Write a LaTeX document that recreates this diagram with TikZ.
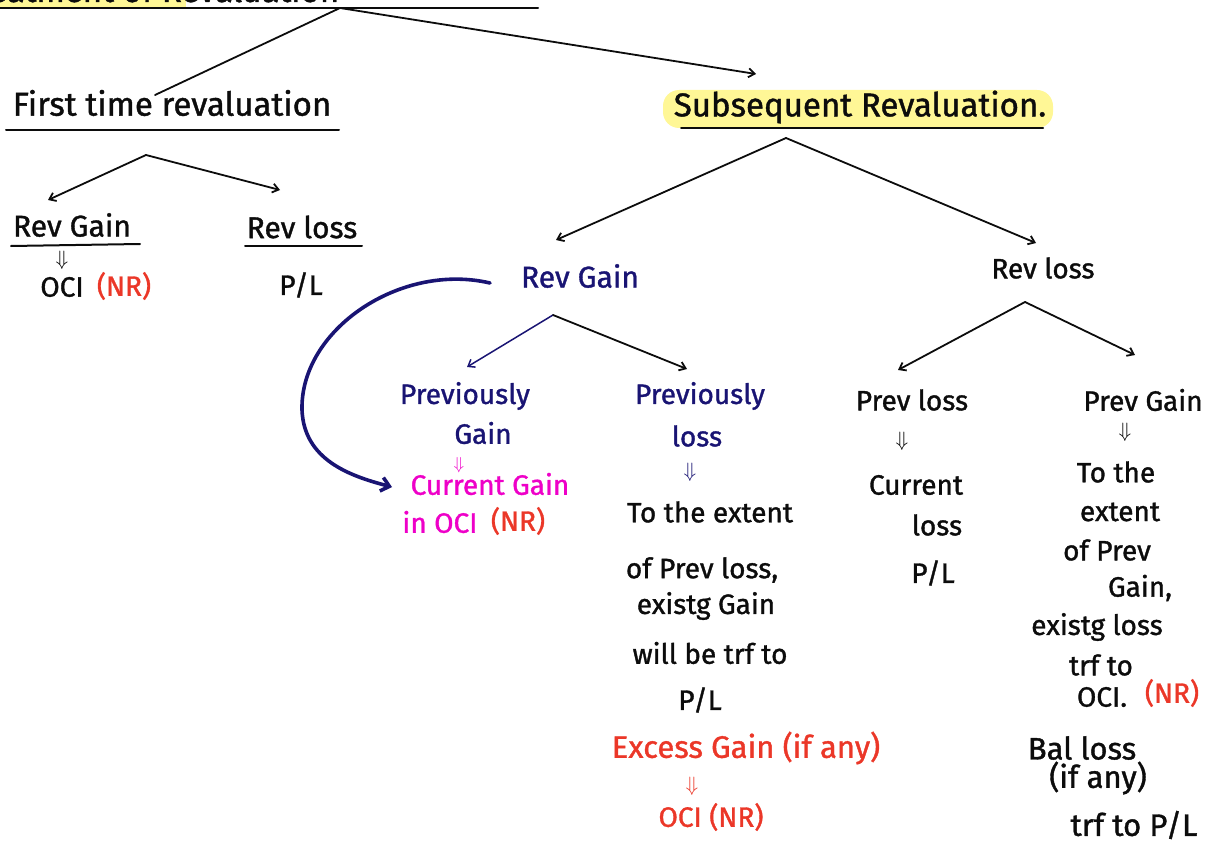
\documentclass[tikz,border=0pt]{standalone}
\usepackage{fontspec}
\setmainfont{Fira Sans}[FakeBold=1.2]
\usetikzlibrary{arrows.meta}
\definecolor{ink}{RGB}{12,12,12}
\definecolor{navy}{RGB}{25,20,115}
\definecolor{pinkink}{RGB}{238,0,200}
\definecolor{redink}{RGB}{235,55,40}
\definecolor{hilite}{RGB}{255,247,150}
\begin{document}
\begin{tikzpicture}[x=1pt,y=-1pt,
  txt/.style={inner sep=1pt, text=ink, font=\fontsize{28}{32}\selectfont},
  bigtxt/.style={txt, font=\fontsize{33}{38}\selectfont},
  headtxt/.style={txt, font=\fontsize{30}{34}\selectfont},
  widetxt/.style={txt, font=\fontsize{31}{35}\selectfont},
  dn/.style={inner sep=0pt, font=\fontsize{20}{20}\selectfont},
  ln/.style={draw=ink, line width=1.8pt, line cap=round},
  arr/.style={ln, -{Straight Barb[length=6pt,width=9pt]}},
  uline/.style={draw=ink, line width=2pt, line cap=round}]
\useasboundingbox (0,0) rectangle (1212,845);

% heading at the top edge, highlighted and underlined
\begin{scope}
  \clip (0,0) rectangle (1212,845);
  \fill[hilite] (0,-10) rectangle (186,8);
  \node[bigtxt, anchor=base west] (title) at (-40,2) {Treatment of Revaluation};
\end{scope}
\draw[uline] (0,8) -- (538,8);
\coordinate (topj) at (340,8);

% first time revaluation branch
\node[bigtxt] (first) at (172,103) {First time revaluation};
\draw[uline] (6,130) -- (339,130);
\coordinate (firstin) at (155,95);
\draw[ln] (topj) -- (firstin);

\coordinate (fj) at (146,155);
\coordinate (fgtip) at (48,200);
\coordinate (fltip) at (280,190);
\draw[arr] (fj) -- (fgtip);
\draw[arr] (fj) -- (fltip);

\node[headtxt] (frg) at (72,225) {Rev Gain};
\draw[uline] (11,246) -- (140,244);
\node[dn] (frgd) at (62,260) {$\Downarrow$};
\node[txt] (foci) at (62,287) {OCI};
\node[txt, text=redink] (fnr) at (124,286) {(NR)};

\node[headtxt] (frl) at (302,227) {Rev loss};
\draw[uline] (245,246) -- (362,246);
\node[txt] (fpl) at (301,285) {P/L};

% subsequent revaluation branch
\coordinate (subtip) at (756,74);
\draw[arr] (topj) -- (subtip);
\fill[hilite, rounded corners=16pt] (663,90) rectangle (1053,128);
\node[bigtxt] (sub) at (860,107) {Subsequent Revaluation.};
\draw[uline] (681,128) -- (1043,128);

\coordinate (sj) at (786,138);
\coordinate (sgtip) at (556,240);
\coordinate (sltip) at (1036,243);
\draw[arr] (sj) -- (sgtip);
\draw[arr] (sj) -- (sltip);

\node[headtxt, text=navy] (srg) at (580,276) {Rev Gain};
\node[txt] (srl) at (1043,268) {Rev loss};

% transfer of the current gain straight to OCI
\coordinate (cstart) at (490,283);
\coordinate (cend) at (392,487);
\draw[draw=navy, line width=3.6pt, line cap=round, -{Straight Barb[length=8pt,width=14pt]}]
  (cstart) .. controls (400,262) and (300,330) .. (302,410)
           .. controls (304,460) and (350,476) .. (cend);

% children of the revaluation gain
\coordinate (gj) at (553,315);
\coordinate (pgtip) at (467,367);
\coordinate (pltip) at (687,369);
\draw[arr, draw=navy, line width=1.5pt] (gj) -- (pgtip);
\draw[arr] (gj) -- (pltip);

\node[txt, text=navy] (pg1) at (465,396) {Previously};
\node[txt, text=navy] (pg2) at (483,433) {Gain};
\node[dn, text=pinkink, font=\fontsize{16}{16}\selectfont] (pgd) at (459,465) {$\Downarrow$};
\node[txt, text=pinkink] (cg) at (490,484) {Current Gain};
\node[txt, text=pinkink] (inoci) at (440,522) {in OCI};
\node[txt, text=redink] (cgnr) at (518,521) {(NR)};

\node[txt, text=navy] (pl1) at (700,396) {Previously};
\node[txt, text=navy] (pl2) at (697,436) {loss};
\node[dn, text=navy] (pld) at (690,472) {$\Downarrow$};
\node[txt] (m1) at (710,512) {To the extent};
\node[txt] (m2) at (702,570) {of Prev loss,};
\node[txt] (m3) at (706,606) {existg Gain};
\node[txt] (m4) at (710,653) {will be trf to};
\node[txt] (m5) at (700,700) {P/L};
\node[widetxt, text=redink] (ex) at (746,748) {Excess Gain (if any)};
\node[dn, text=redink] (exd) at (692,786) {$\Downarrow$};
\node[txt, text=redink] (exoci) at (711,817) {OCI (NR)};

% children of the revaluation loss
\coordinate (lj) at (1025,302);
\coordinate (rltip) at (898,370);
\coordinate (rgtip) at (1135,355);
\draw[arr] (lj) -- (rltip);
\draw[arr] (lj) -- (rgtip);

\node[txt] (q1) at (912,400) {Prev loss};
\node[dn] (qd) at (902,441) {$\Downarrow$};
\node[txt] (q2) at (916,485) {Current};
\node[txt] (q3) at (937,525) {loss};
\node[txt] (q4) at (933,573) {P/L};

\node[txt] (r1) at (1143,400) {Prev Gain};
\node[dn] (rd) at (1125,432) {$\Downarrow$};
\node[txt] (r2) at (1116,472) {To the};
\node[txt] (r3) at (1120,512) {extent};
\node[txt] (r4) at (1107,550) {of Prev};
\node[txt] (r5) at (1140,588) {Gain,};
\node[txt] (r6) at (1097,627) {existg loss};
\node[txt] (r7) at (1101,665) {trf to};
\node[txt] (r8) at (1102,697) {OCI.};
\node[txt, text=redink] (r8nr) at (1172,693) {(NR)};
\node[widetxt] (r9) at (1082,748) {Bal loss};
\node[widetxt] (r10) at (1098,778) {(if any)};
\node[widetxt] (r11) at (1134,825) {trf to P/L};
\end{tikzpicture}
\end{document}
